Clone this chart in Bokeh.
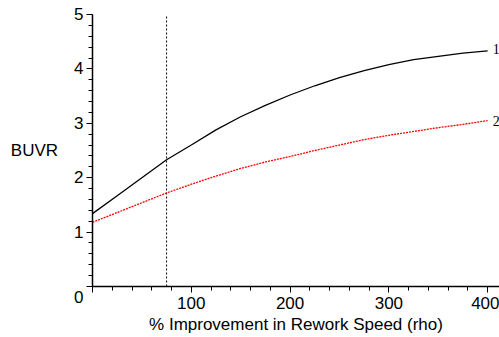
from bokeh.plotting import figure
from bokeh.models import Range1d, FixedTicker, Label
from bokeh.embed import file_html
from bokeh.resources import INLINE

# Data
rho = [0, 25, 50, 75, 100, 125, 150, 175, 200, 225, 250, 275, 300, 325, 350, 375, 400]
buvr_1 = [1.34, 1.67, 2.00, 2.33, 2.60, 2.88, 3.12, 3.33, 3.52, 3.69, 3.84, 3.97, 4.08, 4.17, 4.23, 4.29, 4.33]
buvr_2 = [1.18, 1.36, 1.54, 1.72, 1.88, 2.03, 2.17, 2.29, 2.39, 2.50, 2.60, 2.70, 2.78, 2.85, 2.92, 2.98, 3.05]
marker_rho = 75
x_major = [0, 100, 200, 300, 400]
x_minor = list(range(20, 420, 20))
y_major = [0, 1, 2, 3, 4, 5]
y_minor = [round(i * 0.2, 1) for i in range(0, 26)]
curve_names = ["1", "2"]
x_title = "% Improvement in Rework Speed (rho)"
y_title = "BUVR"

FONT = "Liberation Sans"
FS = "17px"

p = figure(width=499, height=337, output_backend="svg", toolbar_location=None,
           x_range=Range1d(0, 412), y_range=Range1d(0, 5),
           min_border_left=92, min_border_right=0, min_border_top=14, min_border_bottom=51)
p.outline_line_color = None
p.xgrid.visible = False
p.ygrid.visible = False
p.background_fill_color = "white"
p.border_fill_color = "white"

for ax in (p.xaxis[0], p.yaxis[0]):
    ax.axis_line_color = "black"
    ax.axis_line_width = 1.5
    ax.major_tick_line_color = "black"
    ax.minor_tick_line_color = "black"
    ax.major_tick_in = 0
    ax.major_tick_out = 6
    ax.minor_tick_in = 0
    ax.minor_tick_out = 4
    ax.major_label_text_font = FONT
    ax.major_label_text_font_size = FS
    ax.major_label_text_color = "black"
    ax.axis_label_text_font = FONT
    ax.axis_label_text_font_size = FS
    ax.axis_label_text_font_style = "normal"
    ax.axis_label_text_color = "black"

p.xaxis[0].ticker = FixedTicker(ticks=x_major, minor_ticks=x_minor)
p.yaxis[0].ticker = FixedTicker(ticks=y_major, minor_ticks=y_minor)
p.xaxis[0].major_label_overrides = {0: ""}
p.xaxis[0].axis_label = x_title
p.xaxis[0].major_label_standoff = 4
p.xaxis[0].axis_label_standoff = 3
p.yaxis[0].major_label_standoff = 3
p.yaxis[0].major_label_overrides = {0: "\n0"}
p.yaxis[0].axis_label = y_title
p.yaxis[0].axis_label_orientation = "horizontal"
p.yaxis[0].axis_label_standoff = 13

p.line(x=[marker_rho, marker_rho], y=[0, 5], line_color="black", line_width=1, line_dash="2 2")
p.line(rho, buvr_1, line_color="black", line_width=1.3)
p.line(rho, buvr_2, line_color="red", line_width=1.3, line_dash="2 1")

p.add_layout(Label(x=rho[-1], y=buvr_1[-1], text=curve_names[0], x_offset=5, y_offset=2,
                   text_align="left", text_baseline="middle",
                   text_font="Liberation Serif", text_font_size="14px", text_color="black"))
p.add_layout(Label(x=rho[-1], y=buvr_2[-1], text=curve_names[1], x_offset=5, y_offset=0,
                   text_align="left", text_baseline="middle",
                   text_font="Liberation Serif", text_font_size="14px", text_color="black"))

open("out.html", "w").write(file_html(p, INLINE))
